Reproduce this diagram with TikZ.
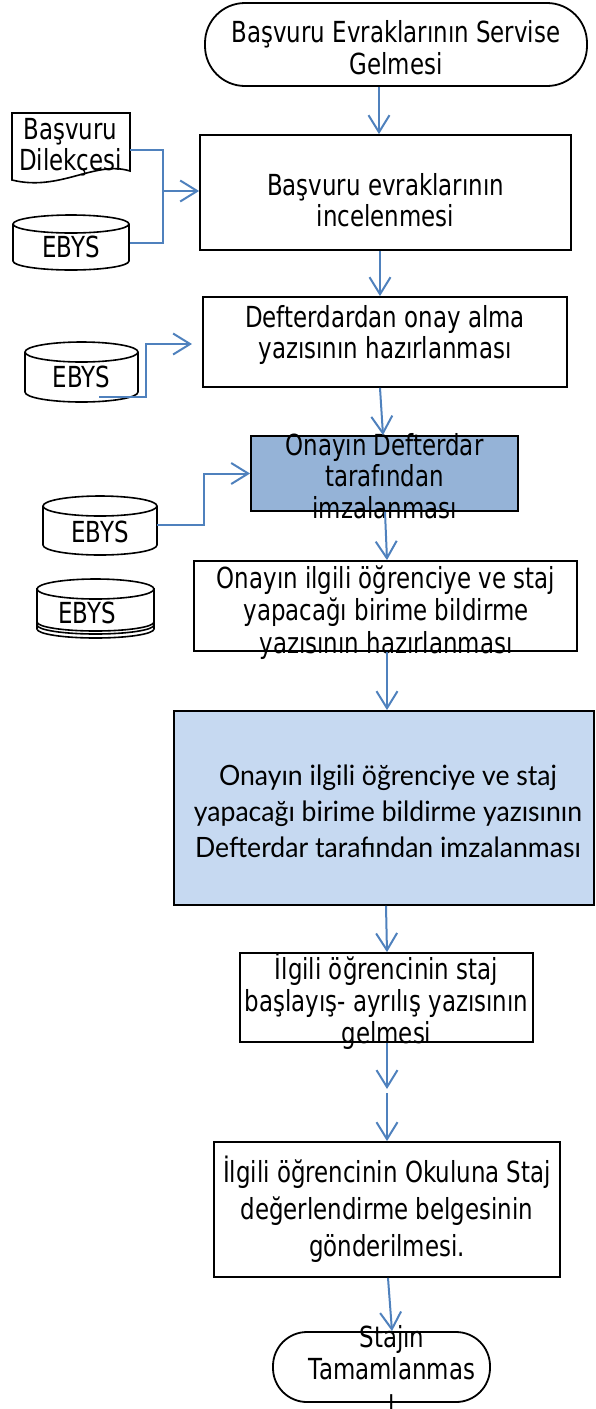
\documentclass[tikz,border=0pt]{standalone}
\usepackage{fontspec}
\setmainfont{DejaVu Sans}[FakeStretch=0.79]
\newfontfamily\gillfont{Lato}[FakeStretch=0.95]
\usetikzlibrary{arrows.meta}
\definecolor{arrowblue}{HTML}{4F81BD}
\definecolor{darkfill}{HTML}{95B3D7}
\definecolor{lightfill}{HTML}{C6D9F1}
\newcommand{\dbcyl}[7]{% name, L, R, T, B, ry, text y
  \draw[cyl] (#2,#4+#6) -- (#2,#5-#6) arc[start angle=180,end angle=0,x radius={(#3-#2)/2},y radius=#6] -- (#3,#4+#6);
  \draw[cyl] ({(#2+#3)/2},#4+#6) ellipse[x radius={(#3-#2)/2},y radius=#6];
  \node[txt] (#1) at ({(#2+#3)/2},#7) {EBYS};
}
\begin{document}
\begin{tikzpicture}[x=1pt,y=-1pt,
  pbox/.style={draw=black,line width=1.8pt,inner sep=0pt,rectangle},
  txt/.style={align=center,inner sep=0pt,font=\fontsize{29}{31.5}\selectfont},
  conn/.style={draw=arrowblue,line width=2pt},
  arr/.style={conn,-{Straight Barb[length=17pt,width=21pt]}},
  cyl/.style={draw=black,line width=1.6pt,fill=white}]
\useasboundingbox (0,0) rectangle (595,1409);

% main column
\node[pbox,rounded corners=40pt,minimum width=382,minimum height=83] (start) at (396,44.5) {};
\node[txt] (startt) at (396,47.5) {Başvuru Evraklarının Servise\\Gelmesi};

\node[pbox,minimum width=371,minimum height=115] (b2) at (385.5,192.5) {};
\node[txt] (b2t) at (385.5,200) {Başvuru evraklarının\\incelenmesi};

\node[pbox,minimum width=364,minimum height=90] (b3) at (385,342) {};
\node[txt] (b3t) at (385,335) {Defterdardan onay alma\\yazısının hazırlanması};

\node[pbox,fill=darkfill,minimum width=267,minimum height=75] (b4) at (384.5,473.5) {};
\node[txt] (b4t) at (384.5,476) {Onayın Defterdar\\tarafından\\imzalanması};

\node[pbox,minimum width=383,minimum height=90] (b5) at (385.5,606) {};
\node[txt,font=\fontsize{29}{32.5}\selectfont] (b5t) at (386,612.5) {Onayın ilgili öğrenciye ve staj\\yapacağı birime bildirme\\yazısının hazırlanması};

\node[pbox,fill=lightfill,minimum width=420,minimum height=194] (b6) at (384,808) {};
\node[txt,font=\gillfont\fontsize{28}{36}\selectfont] (b6t) at (388,811) {Onayın ilgili öğrenciye ve staj\\yapacağı birime bildirme yazısının\\Defterdar tarafından imzalanması};

\node[pbox,minimum width=293,minimum height=89] (b7) at (386.5,997.5) {};
\node[txt,font=\fontsize{29}{32}\selectfont] (b7t) at (386.5,1001.5) {İlgili öğrencinin staj\\başlayış- ayrılış yazısının\\gelmesi};

\node[pbox,minimum width=346,minimum height=135] (b8) at (387,1209.5) {};
\node[txt,font=\fontsize{29}{37}\selectfont] (b8t) at (387,1209.5) {İlgili öğrencinin Okuluna Staj\\değerlendirme belgesinin\\gönderilmesi.};

\node[pbox,rounded corners=34pt,minimum width=217,minimum height=70] (endn) at (381.5,1367) {};
\node[txt] (endt) at (392,1368) {Stajın\\Tamamlanmas\\ı};

% main arrows
\draw[arr] ([xshift=-17pt]start.south) -- ([xshift=-6.5pt]b2.north);
\draw[arr] ([xshift=-5.5pt]b2.south) -- ([xshift=-5pt]b3.north);
\draw[arr] ([xshift=-5pt]b3.south) -- ([xshift=-1.5pt]b4.north);
\draw[arr] ([xshift=0.5pt]b4.south) -- ([xshift=1.5pt]b5.north);
\draw[arr] ([xshift=1.5pt]b5.south) -- ([xshift=3pt]b6.north);
\draw[arr] ([xshift=2pt]b6.south) -- ([xshift=0.5pt]b7.north);
\coordinate (m7a) at (387,1089);
\coordinate (m7b) at (387,1093);
\draw[arr] ([xshift=0.5pt]b7.south) -- (m7a);
\draw[arr] (m7b) -- (b8.north);
\draw[arr] ([xshift=1pt]b8.south) -- ([xshift=10.5pt]endn.north);

% document shape
\draw[black,line width=1.6pt,fill=white] (12,113) -- (130,113) -- (130,171)
  .. controls (95,160) and (60,192) .. (12,180) -- cycle;
\node[txt] (doc) at (70.5,147) {Başvuru\\Dilekçesi};

% cylinders
\dbcyl{cyl1}{13}{129}{215}{270}{9}{247}
\dbcyl{cyl2}{25}{138}{342}{402}{10}{377}
\dbcyl{cyl3}{43}{157}{496}{555}{10}{532}
% double-bottom cylinder
\draw[cyl] (37,589) -- (37,629) arc[start angle=180,end angle=0,x radius=58.5,y radius=9] -- (154,589);
\draw[cyl] (37,629) -- (37,625) arc[start angle=180,end angle=0,x radius=58.5,y radius=9] -- (154,629);
\draw[cyl] (37,622) arc[start angle=180,end angle=0,x radius=58.5,y radius=9] -- (154,589) -- (37,589) -- cycle;
\draw[cyl] (95.5,589) ellipse[x radius=58.5,y radius=10];
\node[txt] (cyl4) at (87,613) {EBYS};

% side connectors
\coordinate (docr) at (130,150);
\coordinate (cylr) at (130,243);
\coordinate (j1) at (163,191);
\draw[conn] (docr) -| (j1) |- (cylr);
\draw[arr] (j1) -- (j1 -| b2.west);

\coordinate (s2) at (99,397);
\coordinate (e2) at (192,344);
\draw[arr] (s2) -- (146,397) -- (146,344) -- (e2);

\coordinate (c3r) at (157,525);
\draw[arr] (c3r) -- (204,525) -- (204,473.5) -- (b4.west);
\end{tikzpicture}
\end{document}
